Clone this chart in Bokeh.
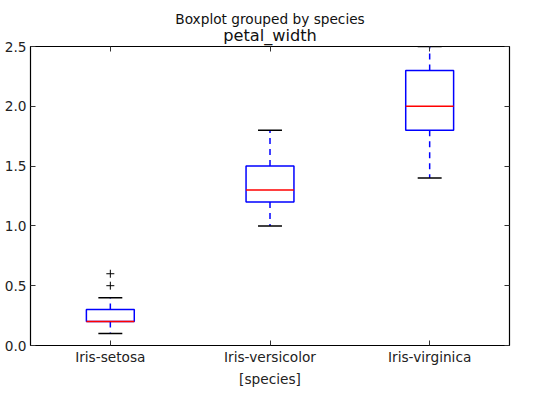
from bokeh.plotting import figure
from bokeh.models import (Range1d, FixedTicker, PrintfTickFormatter, LinearAxis, Title,
                          CustomJSTickFormatter)
from bokeh.embed import file_html
from bokeh.resources import INLINE

species = ["Iris-setosa", "Iris-versicolor", "Iris-virginica"]
whisker_low = [0.1, 1.0, 1.4]
q1 = [0.2, 1.2, 1.8]
median = [0.2, 1.3, 2.0]
q3 = [0.3, 1.5, 2.3]
whisker_high = [0.4, 1.8, 2.5]
outlier_species = ["Iris-setosa", "Iris-setosa"]
outlier_values = [0.5, 0.6]
y_ticks = [0.0, 0.5, 1.0, 1.5, 2.0, 2.5]
suptitle = "Boxplot grouped by species"
title = "petal_width"

pos = {s: i + 1 for i, s in enumerate(species)}
xs = [pos[s] for s in species]
box_w = 0.3
cap_w = 0.15
FONT = "DejaVu Sans"
FS = "13.7px"

x_range = Range1d(0.5, 3.5)
y_range = Range1d(0, 2.5)
p = figure(width=535, height=393, output_backend="svg", toolbar_location=None, title=None,
           x_range=x_range, y_range=y_range,
           min_border_left=30, min_border_right=26, min_border_top=46, min_border_bottom=48)

p.xgrid.visible = False
p.ygrid.visible = False
p.outline_line_color = "black"
p.outline_line_width = 1.2
p.background_fill_color = "white"
p.border_fill_color = "white"

xa = p.xaxis[0]
xa.ticker = FixedTicker(ticks=xs)
xa.major_label_overrides = {x: s for x, s in zip(xs, species)}
xa.axis_label = "[species]"
ya = p.yaxis[0]
ya.ticker = FixedTicker(ticks=y_ticks)
ya.formatter = PrintfTickFormatter(format="%.1f")
for ax in (xa, ya):
    ax.major_tick_in = 5
    ax.major_tick_out = 0
    ax.minor_tick_line_color = None
    ax.axis_line_color = None
    ax.major_tick_line_color = "#333333"
    ax.major_label_text_font = FONT
    ax.major_label_text_font_size = FS
    ax.major_label_text_color = "#222222"
    ax.major_label_standoff = 3
    ax.axis_label_text_font = FONT
    ax.axis_label_text_font_size = FS
    ax.axis_label_text_font_style = "normal"
    ax.axis_label_text_color = "#222222"
    ax.axis_label_standoff = 3
ya.major_label_standoff = 4

blank = CustomJSTickFormatter(code="return ''")
top = LinearAxis(ticker=FixedTicker(ticks=xs), formatter=blank,
                 major_tick_in=5, major_tick_out=0, minor_tick_line_color=None,
                 axis_line_color=None, major_label_standoff=0, major_tick_line_color="#333333")
right = LinearAxis(ticker=FixedTicker(ticks=y_ticks), formatter=blank,
                   major_tick_in=5, major_tick_out=0, minor_tick_line_color=None,
                   axis_line_color=None, major_label_standoff=0, major_tick_line_color="#333333")
p.add_layout(top, "above")
p.add_layout(right, "right")

t_main = Title(text=title, align="center", text_font=FONT, text_font_size="16.2px",
               text_font_style="normal", text_color="#111111", standoff=3)
t_sup = Title(text=suptitle, align="center", text_font=FONT,
              text_font_size=FS, text_font_style="normal", text_color="#111111",
              standoff=-9)
p.add_layout(t_main, "above")
p.add_layout(t_sup, "above")

# whiskers
p.segment(x0=xs, x1=xs, y0=q3, y1=whisker_high, line_color="blue", line_width=1.5, line_dash="6 5")
p.segment(x0=xs, x1=xs, y0=q1, y1=whisker_low, line_color="blue", line_width=1.5, line_dash="6 5")
# caps
p.segment(x0=[x - cap_w / 2 for x in xs], x1=[x + cap_w / 2 for x in xs], y0=whisker_high, y1=whisker_high,
          line_color="black", line_width=1.5)
p.segment(x0=[x - cap_w / 2 for x in xs], x1=[x + cap_w / 2 for x in xs], y0=whisker_low, y1=whisker_low,
          line_color="black", line_width=1.5)
# boxes
p.quad(left=[x - box_w / 2 for x in xs], right=[x + box_w / 2 for x in xs], bottom=q1, top=q3,
       fill_color=None, line_color="blue", line_width=1.5)
# medians
p.segment(x0=[x - box_w / 2 for x in xs], x1=[x + box_w / 2 for x in xs], y0=median, y1=median,
          line_color="red", line_width=1.5)
# outliers
p.scatter(x=[pos[s] for s in outlier_species], y=outlier_values, marker="cross", size=8,
          line_color="black", line_width=1)

open("out.html", "w").write(file_html(p, INLINE))
